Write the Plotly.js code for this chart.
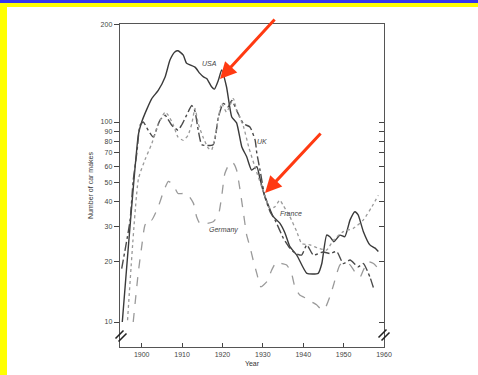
<!DOCTYPE html>
<html>
<head>
<meta charset="utf-8">
<script src="https://cdn.plot.ly/plotly-3.0.1.min.js"></script>
<style>
  html, body { margin: 0; padding: 0; background: #ffffff; }
  #wrap { position: relative; width: 478px; height: 375px; overflow: hidden; background: #fff; }
  #chart { position: absolute; left: 0; top: 0; width: 478px; height: 375px; }
  #topblue { position: absolute; left: 0; top: 0; width: 478px; height: 3px; background: #3535ee; z-index: 5; }
  #topyellow { position: absolute; left: 0; top: 3px; width: 478px; height: 4px; background: #ffff00; z-index: 5; }
  #leftyellow { position: absolute; left: 0; top: 3px; width: 7px; height: 372px; background: #ffff00; z-index: 5; }
</style>
</head>
<body>
<div id="wrap">
  <div id="chart"></div>
  <div id="topblue"></div>
  <div id="topyellow"></div>
  <div id="leftyellow"></div>
</div>
<script>
// ---- Data (year, number of car makes) ----
const usaYears = [1895.2,1899.2,1900,1901.2,1902.5,1904.1,1905.8,1907,1908.2,1909,1910.3,1911.1,1913.2,1914.4,1915.3,1916.1,1917.3,1918,1919,1919.8,1921,1922.3,1923.5,1924.8,1926,1927.2,1928.5,1929.3,1930.1,1931,1932.6,1934.2,1935.5,1936.7,1938.4,1940.9,1943.7,1944.6,1945.8,1946.6,1947.6,1949.1,1950.3,1951.6,1952.8,1953.6,1954.9,1956.5,1957.8,1958.6];
const usaValues = [10,87,100,115,131,144,168,204,224,227,216,197,188,175,168,165,150,146,162,182,150,106,99,75,67,57.5,59.8,52,44.9,40,33.6,31.2,27.8,23.8,21.6,17.5,17.5,19.6,27.2,26.7,25.2,27.2,26.7,32.4,35.6,34.3,28.3,24.3,23.4,22.5];

const ukYears = [1895.05,1897.1,1897.9,1898.8,1899.6,1900.4,1901.6,1902.9,1904.5,1905.8,1907.4,1909,1909.9,1911.1,1912.4,1913.2,1914,1914.9,1917.7,1919,1920.2,1921.4,1922.3,1923.9,1925.2,1926.8,1928.1,1928.5,1929.3,1930.5,1931.8,1933,1935.1,1936.7,1938,1939.6,1940.9,1942.5,1944.9,1946.6,1948.3,1949.9,1951.6,1953.6,1954.9,1956.5,1957.4];
const ukValues = [18.5,32,51,70,96.5,100,91,84,102,108,96.6,91,96.6,108,121,113,91,77,77,106,124,119,128,110,98,94.5,81,70,57.5,42.3,35.6,32.4,26.2,23.4,22.1,21.6,24.3,21.6,22.4,22,22.5,19.6,20.4,18.9,19.6,16.8,14.8];

const franceYears = [1896.5,1899.2,1900.8,1902.5,1904.1,1905.8,1906.6,1907.8,1909,1910.3,1911.5,1912.4,1913.2,1914,1915.3,1916.5,1917.3,1918.6,1919.8,1921,1922.7,1923.5,1925.2,1926.5,1928,1930.1,1931.8,1933,1934.2,1935,1936.7,1938.4,1939.6,1941.7,1943.7,1945.8,1947.5,1949.9,1952.4,1954.9,1957,1958.6];
const franceValues = [10.2,52,64.6,78,98,112,108,97,84,81,86,98,117,98,83,74,72.4,94,124,112,131,115,95,75,60,45,37,37.7,40.7,38.4,33.6,28.3,24.7,24.3,23.4,22.9,25.7,28.3,29.4,32.4,37.7,43];

const germanyYears = [1897.9,1899.2,1900,1900.8,1902,1902.5,1904.1,1905.4,1906.6,1907.8,1909,1910.3,1911.5,1912.8,1913.6,1914.4,1916.1,1917.7,1919,1919.8,1920.6,1921.9,1922.7,1923.5,1924.3,1925.2,1926,1926.8,1927.6,1928.5,1929.5,1931,1932.2,1933.4,1934.7,1935.9,1937.1,1938,1939.2,1940.9,1942.1,1943.3,1944.6,1945.4,1946.6,1947.5,1948.3,1949.1,1950.3,1951.6,1952.8,1954.1,1954.9,1956.1,1957.4,1958.6];
const germanyValues = [10,18,23.8,30.5,33,32.4,37.7,44.9,50.5,48.5,43.9,43.9,43.1,39.3,33.6,31.1,31.1,31.7,34.3,42.3,55.3,62.7,62.2,57.5,46.6,35,27.2,23.8,20.4,17.5,15,15.9,18.2,20,19.6,19.3,17.5,14.8,13.6,13.1,12.6,12.2,11.5,11.7,13.4,15.3,17.5,19.3,20,19.3,17.8,16.8,18.2,20,19.6,18.5];

const seriesNames = ["USA", "UK", "France", "Germany"];
const xTickVals = [1900, 1910, 1920, 1930, 1940, 1950, 1960];
const yTickVals = [10, 20, 30, 40, 50, 60, 70, 80, 90, 100];
const yTopLabel = "200";

// ---- Layout constants ----
const yLogMin = 0.875, yLogMax = 2.49;
const yTopVal = Math.pow(10, yLogMax - 0.002);
const font = "Liberation Sans, Arial, sans-serif";

const traces = [
  {x: usaYears, y: usaValues, name: seriesNames[0], mode: "lines",
   line: {color: "#3a3a3a", width: 1.4, dash: "solid", shape: "spline", smoothing: 0.5}},
  {x: ukYears, y: ukValues, name: seriesNames[1], mode: "lines",
   line: {color: "#4a4a4a", width: 1.4, dash: "dashdot", shape: "spline", smoothing: 0.5}},
  {x: franceYears, y: franceValues, name: seriesNames[2], mode: "lines",
   line: {color: "#9a9a9a", width: 1.3, dash: "dot", shape: "spline", smoothing: 0.5}},
  {x: germanyYears, y: germanyValues, name: seriesNames[3], mode: "lines",
   line: {color: "#9a9a9a", width: 1.3, dash: "dash", shape: "spline", smoothing: 0.5}},
  {x: [], y: [], yaxis: "y2", showlegend: false, hoverinfo: "skip"}
];

// paper helpers (plot area: x 120..384, y 24..347)
const PL = 120, PR = 384, PT = 24, PB = 347;
const px = v => (v - PL) / (PR - PL);
const py = v => (PB - v) / (PB - PT);

function breakMark(cx, cy) {
  const out = [];
  [-1.5, 1.5].forEach(d => {
    out.push({type: "line", xref: "paper", yref: "paper",
      x0: px(cx - 4 + d), y0: py(cy + 4 + d), x1: px(cx + 4 + d), y1: py(cy - 4 + d),
      line: {color: "#222", width: 1.6}});
  });
  return out;
}

const labelFont = {family: font, size: 7, color: "#444"};
const annotations = [
  {xref: "paper", yref: "paper", x: px(200), y: py(58), text: "<i>USA</i>", showarrow: false, font: labelFont},
  {xref: "paper", yref: "paper", x: px(262), y: py(141), text: "<i>UK</i>", showarrow: false, font: labelFont},
  {xref: "paper", yref: "paper", x: px(304), y: py(213), text: "<i>France</i>", showarrow: false, font: labelFont},
  {xref: "paper", yref: "paper", x: px(207), y: py(230), text: "<i>Germany</i>", showarrow: false, font: labelFont},
  {xref: "paper", yref: "paper", x: px(220), y: py(79), ax: 56, ay: -61, text: "", showarrow: true,
   arrowhead: 2, arrowsize: 1.1, arrowwidth: 3, arrowcolor: "#ff3a12"},
  {xref: "paper", yref: "paper", x: px(265), y: py(193), ax: 57, ay: -61, text: "", showarrow: true,
   arrowhead: 2, arrowsize: 1.1, arrowwidth: 3, arrowcolor: "#ff3a12"}
];

const layout = {
  width: 478, height: 375,
  margin: {l: PL, r: 478 - PR, t: PT, b: 375 - PB, pad: 0},
  paper_bgcolor: "#ffffff", plot_bgcolor: "#ffffff",
  showlegend: false,
  font: {family: font, size: 7, color: "#333"},
  xaxis: {
    range: [1894.63, 1960], showgrid: false, zeroline: false,
    showline: true, linecolor: "#555", linewidth: 1.3, mirror: true,
    ticks: "inside", ticklen: 4, tickcolor: "#444", tickwidth: 1,
    tickvals: xTickVals, ticktext: xTickVals.map(String),
    tickfont: {family: font, size: 7, color: "#444"},
    title: {text: "Year", font: {family: font, size: 7, color: "#333"}, standoff: 4}
  },
  yaxis: {
    type: "log", range: [yLogMin, yLogMax], showgrid: false, zeroline: false,
    showline: true, linecolor: "#555", linewidth: 1.3, mirror: true,
    ticks: "outside", ticklen: 5, tickcolor: "#444", tickwidth: 1,
    tickvals: yTickVals.concat([yTopVal]),
    ticktext: yTickVals.map(String).concat([yTopLabel]),
    tickfont: {family: font, size: 7, color: "#444"},
    title: {text: "Number of car makes", font: {family: font, size: 7, color: "#333"}, standoff: 6}
  },
  yaxis2: {
    type: "log", range: [yLogMin, yLogMax], overlaying: "y", side: "right",
    showgrid: false, zeroline: false, showline: false,
    ticks: "inside", ticklen: 5, tickcolor: "#444", tickwidth: 1,
    tickvals: yTickVals, showticklabels: false
  },
  shapes: breakMark(121, 336).concat(breakMark(384, 335)),
  annotations: annotations
};

Plotly.newPlot("chart", traces, layout, {staticPlot: true, displayModeBar: false});
</script>
</body>
</html>
